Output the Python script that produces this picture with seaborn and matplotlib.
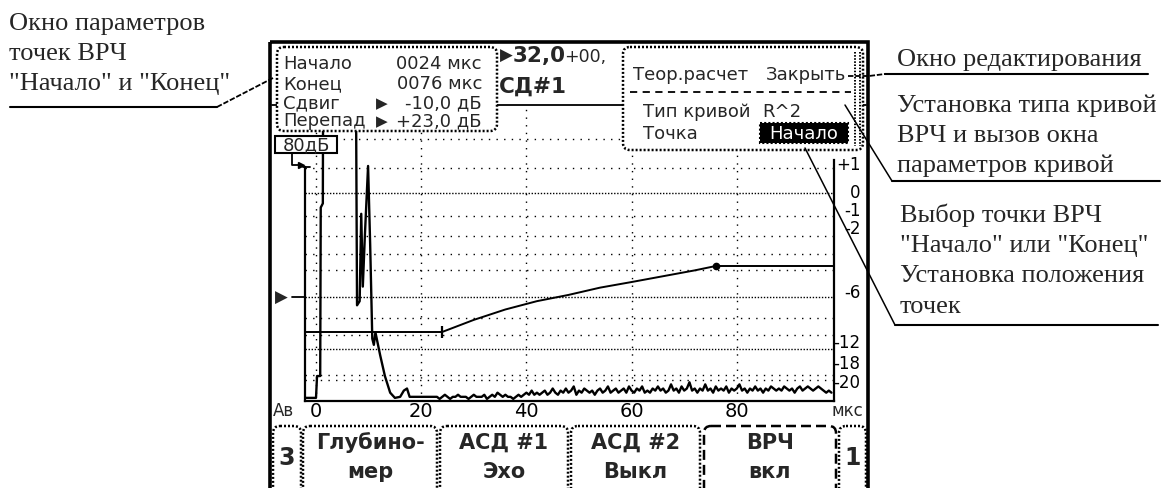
import numpy as np
import pandas as pd
import matplotlib
matplotlib.use("Agg")
import matplotlib.pyplot as plt
import seaborn as sns
from matplotlib.patches import FancyBboxPatch, Rectangle

sns.set_theme(style="white")
plt.rcParams['font.family'] = ['DejaVu Sans']

# ---------------- data ----------------
# A-scan signal: time (us) and amplitude (1.0 = 0 dB level)
pulse_t = [-2.1, 0.0, 0.2, 0.8, 0.9, 1.3, 1.35, 7.6, 7.8, 8.3, 8.6, 8.9,
           9.3, 9.9, 10.3, 10.7, 11.0, 11.3, 11.7, 12.2, 13.1, 14.1, 15.0,
           16.0, 16.7, 17.3, 17.8]
pulse_amp = [0.015, 0.015, 0.12, 0.12, 0.93, 0.95, 1.5, 1.5, 0.46, 0.48,
             0.90, 0.55, 0.80, 1.13, 0.75, 0.30, 0.27, 0.33, 0.28, 0.22,
             0.12, 0.04, 0.015, 0.02, 0.05, 0.06, 0.02]
noise_t = np.arange(18.0, 98.01, 0.5)
noise_amp = [2, 2, 2, 2, 2, 2, 2, 2, 2, 2,
             2, 1, 2, 3, 2, 1, 2, 2, 3, 2,
             2, 2, 1, 2, 3, 2, 2, 2, 3, 1,
             2, 3, 2, 4, 3, 2, 3, 2, 2, 1,
             2, 3, 2, 3, 4, 3, 5, 3, 4, 3,
             4, 5, 3, 4, 6, 4, 3, 5, 4, 6,
             4, 5, 7, 3, 5, 4, 6, 5, 4, 5,
             3, 5, 6, 4, 5, 7, 4, 5, 6, 4,
             5, 6, 4, 7, 5, 4, 6, 5, 7, 4,
             5, 4, 6, 5, 7, 5, 6, 4, 5, 8,
             5, 6, 4, 7, 5, 6, 9, 5, 6, 4,
             6, 5, 8, 5, 6, 4, 7, 5, 6, 5,
             7, 4, 6, 5, 6, 8, 5, 6, 4, 6,
             5, 7, 5, 6, 4, 6, 5, 7, 6, 5,
             6, 5, 7, 6, 5, 6, 4, 6, 7, 5,
             6, 7, 6, 5, 6, 7, 6, 5, 4, 5,
             4]  # hundredths

# TVG (ВРЧ) curve
dac_t = [24, 30, 36, 42, 48, 54, 60, 66, 72, 76]
dac_amp = [0.332, 0.39, 0.44, 0.48, 0.51, 0.545, 0.572, 0.60, 0.628, 0.649]

x_ticks = [0, 20, 40, 60, 80]
db_fine = [0, -6, -12]
db_sparse = [2, 1, -1, -2, -3, -4, -8, -10, -18, -20]
db_labels = ['+1', '0', '-1', '-2', '-6', '-12', '-18', '-20']

left_rows = ['Начало', 'Конец', 'Сдвиг', 'Перепад']
left_vals = ['0024 мкс', '0076 мкс', '-10,0 дБ', '+23,0 дБ']
buttons = [('3', ''), ('Глубино-', 'мер'), ('АСД #1', 'Эхо'),
           ('АСД #2', 'Выкл'), ('ВРЧ', 'вкл'), ('1', '')]

ann_left = ['Окно параметров', 'точек ВРЧ', '"Начало" и "Конец"']
ann_edit = ['Окно редактирования']
ann_type = ['Установка типа кривой', 'ВРЧ и вызов окна', 'параметров кривой']
ann_point = ['Выбор точки ВРЧ', '"Начало" или "Конец"', 'Установка положения', 'точек']

# ---------------- layout ----------------
W, H = 1164, 488
fig = plt.figure(figsize=(W / 100, H / 100), dpi=100)

AX_L, AX_R, AX_B, AX_T = 305, 834, 401, 105
T0_PX, PX_PER_US = 316, 5.26
A_PX = 208.0

ax = fig.add_axes([AX_L / W, 1 - AX_B / H, (AX_R - AX_L) / W, (AX_B - AX_T) / H])
xl = ((AX_L - T0_PX) / PX_PER_US, (AX_R - T0_PX) / PX_PER_US)
ax.set_xlim(*xl)
ax.set_ylim(0, (AX_B - AX_T) / A_PX)
ax.set_facecolor('white')

# grid
for db in db_sparse:
    ax.axhline(10 ** (db / 20), color='black', lw=1.0, ls=(0, (1, 4.5)), zorder=1)
for db in db_fine:
    ax.axhline(10 ** (db / 20), color='black', lw=1.0, ls=(0, (1, 1.2)), zorder=1)
for t in x_ticks:
    ax.axvline(t, color='black', lw=1.0, ls=(0, (1, 4.5)), zorder=1)

sig_t = list(pulse_t) + list(noise_t)
sig_a = list(pulse_amp) + [v / 100 for v in noise_amp]
sns.lineplot(x=sig_t, y=sig_a, ax=ax, color='black', lw=1.7, sort=False,
             estimator=None, zorder=3)

sns.lineplot(x=dac_t, y=dac_amp, ax=ax, color='black', lw=1.4, sort=False,
             estimator=None, zorder=3)
ax.hlines(dac_amp[0], xl[0], dac_t[0], color='black', lw=1.4, zorder=3)
ax.hlines(dac_amp[-1], dac_t[-1], xl[1], color='black', lw=1.4, zorder=3)
ax.plot(dac_t[0], dac_amp[0], marker='|', ms=9, mew=1.6, color='black', zorder=4)
ax.plot(dac_t[-1], dac_amp[-1], marker='o', ms=4.5, color='black', zorder=4)

ax.spines['top'].set_visible(False)
for s in ['left', 'right', 'bottom']:
    ax.spines[s].set_color('black')
    ax.spines[s].set_linewidth(1.6)
ax.spines['left'].set_bounds(0, (AX_B - 167) / A_PX)
ax.spines['right'].set_bounds(0, (AX_B - 160) / A_PX)
ax.set_yticks([])
ax.set_xticks(x_ticks)
ax.set_xticklabels([str(v) for v in x_ticks])
ax.tick_params(axis='x', length=0, pad=1, labelsize=14, colors='black')

label_db = [1, 0, -1, -2, -6, -12, -18, -20]
label_off = [2, 0, 3, 5, 3, 4, 8, -2]
for lab, db, off in zip(db_labels, label_db, label_off):
    ax.annotate(lab, xy=(1, 10 ** (db / 20)), xycoords=('axes fraction', 'data'),
                xytext=(19, off), textcoords='offset points', va='center',
                ha='right', fontsize=12, annotation_clip=False, color='black')

# ---------------- overlay (pixel coords) ----------------
ov = fig.add_axes([0, 0, 1, 1])
ov.set_xlim(0, W)
ov.set_ylim(H, 0)
ov.axis('off')
ov.patch.set_alpha(0)
ov.set_zorder(5)

K = 'black'
# device frame
ov.add_patch(Rectangle((270, 42), 598, 480, fill=False, lw=2.6, ec=K, zorder=2))
# header line and status texts
ov.plot([272, 866], [105, 105], color=K, lw=1.3, zorder=1)
ov.text(500, 61, '▶', fontsize=12, ha='left', va='baseline', zorder=1)
ov.text(513, 62, '32,0', fontsize=15.5, fontweight='bold', ha='left', va='baseline', zorder=1)
ov.text(564, 62, '+00,', fontsize=12.5, ha='left', va='baseline', zorder=1)
ov.text(499, 93, 'СД#1', fontsize=15.5, fontweight='bold', ha='left', va='baseline', zorder=1)

win_ls = (0, (0.8, 0.8))
# left window
ov.add_patch(FancyBboxPatch((277, 47), 220, 84, boxstyle='round,pad=0,rounding_size=7',
                            fc='white', ec=K, lw=1.8, ls=win_ls, zorder=3))
for i, (lab, val) in enumerate(zip(left_rows, left_vals)):
    yb = [69, 89, 108, 126][i]
    ov.text(283, yb, lab, fontsize=13, ha='left', va='baseline', zorder=4)
    ov.text(482, yb, val, fontsize=13, ha='right', va='baseline', zorder=4)
    if i >= 2:
        ov.text(376, yb, '▶', fontsize=11, ha='left', va='baseline', zorder=4)

# right window
ov.add_patch(FancyBboxPatch((623, 47), 240, 103, boxstyle='round,pad=0,rounding_size=7',
                            fc='white', ec=K, lw=1.8, ls=win_ls, zorder=3))
ov.text(633, 80, 'Теор.расчет', fontsize=13, ha='left', va='baseline', zorder=4)
ov.text(846, 80, 'Закрыть', fontsize=13, ha='right', va='baseline', zorder=4)
ov.plot([630, 851], [92, 92], color=K, lw=1.3, ls=(0, (4, 3)), zorder=4)
ov.text(643, 117, 'Тип кривой', fontsize=13, ha='left', va='baseline', zorder=4)
ov.text(762, 117, 'R^2', fontsize=13, ha='left', va='baseline', zorder=4)
ov.text(643, 139, 'Точка', fontsize=13, ha='left', va='baseline', zorder=4)
ov.add_patch(Rectangle((760, 123), 88, 20, fc=K, ec=K, lw=1.5, ls=(0, (1, 1)), zorder=4))
ov.text(804, 139, 'Начало', fontsize=13, color='white', ha='center', va='baseline', zorder=5)
for xx in (855, 860):
    ov.plot([xx, xx], [52, 146], color=K, lw=1.4, ls=(0, (0.8, 0.8)), zorder=4)

# 80 dB box and bracket
ov.add_patch(Rectangle((275, 136), 62, 17, fc='white', ec=K, lw=1.5, zorder=3))
ov.text(306, 145, '80дБ', fontsize=13, ha='center', va='center', zorder=4)
ov.plot([292, 292, 300], [153, 165, 165], color=K, lw=1.3, zorder=3)
ov.plot([301], [165], marker='>', ms=5, color=K, zorder=3)
ov.plot([303, 310], [167, 167], color=K, lw=1.3, zorder=3)
# threshold marker
ov.text(281, 298, '▶', fontsize=12, ha='center', va='center', zorder=3)
ov.plot([292, 305], [297, 297], color=K, lw=1.3, zorder=3)

# axis extra labels
ov.text(273, 411, 'Ав', fontsize=12, ha='left', va='center', zorder=3)
ov.text(863, 411, 'мкс', fontsize=12, ha='right', va='center', zorder=3)

# buttons
bx = [(273, 301), (303, 437), (440, 568), (571, 700), (704, 836), (839, 866)]
for (x0, x1), (l1, l2) in zip(bx, buttons):
    ls = (0, (4, 2)) if l1 == 'ВРЧ' else win_ls
    ov.add_patch(FancyBboxPatch((x0, 426), x1 - x0, 80, boxstyle='round,pad=0,rounding_size=7',
                                fc='white', ec=K, lw=1.8, ls=ls, zorder=3))
    cx = (x0 + x1) / 2
    if l2:
        ov.text(cx, 449, l1, fontsize=15, fontweight='bold', ha='center', va='baseline', zorder=4)
        ov.text(cx, 478, l2, fontsize=15, fontweight='bold', ha='center', va='baseline', zorder=4)
    else:
        ov.text(cx, 465, l1, fontsize=17, fontweight='bold', ha='center', va='baseline', zorder=4)

# annotations
SERIF = ['Liberation Serif', 'DejaVu Serif']
def block(lines, x, baselines):
    for s, yb in zip(lines, baselines):
        ov.text(x, yb, s, fontsize=19, family=SERIF, ha='left', va='baseline', zorder=6)

block(ann_left, 9, [30, 60, 90])
ov.plot([10, 217], [107, 107], color=K, lw=1.5, zorder=6)
ov.plot([217, 273], [107, 78], color=K, lw=1.3, ls=(0, (3, 1)), zorder=6)

block(ann_edit, 897, [66])
ov.plot([885, 1148], [74, 74], color=K, lw=1.5, zorder=6)
ov.plot([848, 869, 885], [76, 76, 74], color=K, lw=1.3, ls=(0, (3, 1)), zorder=6)

block(ann_type, 897, [112, 142, 172])
ov.plot([892, 1160], [181, 181], color=K, lw=1.5, zorder=6)
ov.plot([845, 892], [105, 181], color=K, lw=1.1, zorder=6)

block(ann_point, 900, [222, 252, 282, 313])
ov.plot([895, 1158], [325, 325], color=K, lw=1.5, zorder=6)
ov.plot([805, 895], [148, 325], color=K, lw=1.1, zorder=6)

fig.savefig('out.png', dpi=100, facecolor='white')
